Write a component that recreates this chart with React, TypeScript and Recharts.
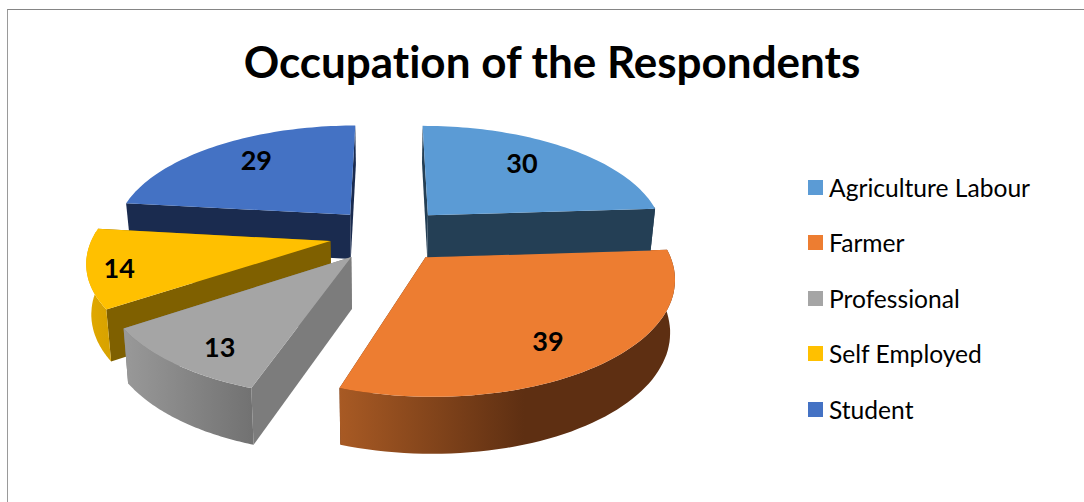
import { PieChart, Pie, Legend } from 'recharts'

const categories = ['Agriculture Labour', 'Farmer', 'Professional', 'Self Employed', 'Student']
const values = [30, 39, 13, 14, 29]
const topColors = ['#5B9BD5', '#ED7D31', '#A5A5A5', '#FFC000', '#4472C4']
const sideColors = ['#243F55', '#5E2F12', '#7C7C7C', '#7F6000', '#1A2B4F']
const rimFrom = ['#243F55', '#A85A24', '#999999', '#E2A900', '#1A2B4F']
const rimTo = ['#243F55', '#5E2F12', '#727272', '#D9A300', '#1A2B4F']
const rimSpan = [1, 0.55, 1, 1, 1]
const wallDepth = [43, 51, 51, 49, 45]
const labelDistance = [0.91, 0.97, 1.02, 1.12, 0.93]

// drawn back to front, so the slices go counter-clockwise from the student slice
const rows = categories
  .map((name, i) => ({ name, value: values[i], fill: topColors[i], idx: i }))
  .reverse()

const FONT = 'Lato, sans-serif'
const CX = 388.5
const CY = 234.6
const RX = 237
const RY = 109.4
const PERSPECTIVE = 0.16
const EXPLODE = 0.25

function project(wx: number, wy: number) {
  const s = 1 + PERSPECTIVE * wy
  return { x: CX + (RX * wx) / s, y: CY - (RY * wy) / s }
}

function lower(p: { x: number; y: number }, wy: number, depth: number) {
  return { x: p.x + (CX - p.x) * 0.017, y: p.y + depth - 5 * wy }
}

const rad = (d: number) => (d * Math.PI) / 180

function toPath(pts: { x: number; y: number }[]) {
  return pts.map((p, i) => `${i ? 'L' : 'M'}${p.x.toFixed(1)},${p.y.toFixed(1)}`).join(' ') + ' Z'
}

function Slice3D(props: any) {
  const { startAngle, endAngle, payload, fill } = props
  const idx = payload?.idx ?? props.idx
  const depth = wallDepth[idx]
  const mid = rad((startAngle + endAngle) / 2)
  const ox = Math.cos(mid) * EXPLODE
  const oy = Math.sin(mid) * EXPLODE

  const rim: { wx: number; wy: number; a: number }[] = []
  const steps = 60
  for (let i = 0; i <= steps; i++) {
    const a = rad(startAngle + ((endAngle - startAngle) * i) / steps)
    rim.push({ wx: ox + Math.cos(a), wy: oy + Math.sin(a), a })
  }
  const apexTop = project(ox, oy)
  const apexLow = lower(apexTop, oy, depth)
  const rimTop = rim.map((r) => project(r.wx, r.wy))
  const rimLow = rim.map((r, i) => lower(rimTop[i], r.wy, depth))

  const wallA = [apexTop, rimTop[0], rimLow[0], apexLow]
  const last = rim.length - 1
  const wallB = [apexTop, rimTop[last], rimLow[last], apexLow]

  // only the part of the rim that faces the viewer
  const front = rim.map((r, i) => (Math.sin(r.a) < 0.1 ? i : -1)).filter((i) => i >= 0)
  const frontTop = front.map((i) => rimTop[i])
  const frontLow = front.map((i) => rimLow[i]).reverse()
  const xs = frontTop.map((p) => p.x)
  const gradId = `rim-${idx}`

  return (
    <g>
      <path d={toPath(wallA)} fill={sideColors[idx]} />
      <path d={toPath(wallB)} fill={sideColors[idx]} />
      {front.length > 1 && (
        <>
          <defs>
            <linearGradient
              id={gradId}
              gradientUnits="userSpaceOnUse"
              x1={Math.min(...xs)}
              x2={Math.min(...xs) + (Math.max(...xs) - Math.min(...xs)) * rimSpan[idx]}
              y1={0}
              y2={0}
            >
              <stop offset="0%" stopColor={rimFrom[idx]} />
              <stop offset="100%" stopColor={rimTo[idx]} />
            </linearGradient>
          </defs>
          <path d={toPath([...frontTop, ...frontLow])} fill={`url(#${gradId})`} />
        </>
      )}
      <path d={toPath([apexTop, ...rimTop])} fill={fill} />
    </g>
  )
}

function sliceLabel(props: any) {
  const { midAngle, value } = props
  const idx = props.payload?.idx ?? props.idx
  const a = rad(midAngle)
  const dist = EXPLODE + labelDistance[idx] - EXPLODE
  const p = project(Math.cos(a) * dist, Math.sin(a) * dist)
  return (
    <text
      x={p.x}
      y={CY + (p.y - CY) * 1.1}
      textAnchor="middle"
      dominantBaseline="central"
      fontFamily={FONT}
      fontWeight={700}
      fontSize={27}
      fill="#000"
    >
      {value}
    </text>
  )
}

function LegendList({ payload }: any) {
  return (
    <div style={{ fontFamily: FONT, fontSize: 24.6, color: '#000', fontVariantLigatures: 'none' }}>
      {(payload ?? []).map((item: any) => (
        <div key={item.value} style={{ display: 'flex', alignItems: 'center', height: 55.5 }}>
          <span style={{ width: 15, height: 15, background: item.color, marginRight: 6 }} />
          <span>{item.value}</span>
        </div>
      ))}
    </div>
  )
}

export default function App() {
  return (
    <div style={{ position: 'absolute', left: 0, top: 0, width: 1084, height: 502, background: '#fff' }}>
      <div
        style={{
          position: 'absolute',
          left: 7,
          top: 9,
          right: 0,
          bottom: 0,
          borderLeft: '1px solid #9a9a9a',
          borderTop: '1px solid #858585',
        }}
      />
      <PieChart width={1084} height={502} style={{ position: 'absolute', left: 0, top: 0 }}>
        <text
          x={552}
          y={61}
          textAnchor="middle"
          dominantBaseline="central"
          fontFamily={FONT}
          fontWeight={700}
          fontSize={44}
          style={{ fontVariantLigatures: 'none' }}
          fill="#000"
        >
          Occupation of the Respondents
        </text>
        <Pie
          data={rows}
          dataKey="value"
          nameKey="name"
          cx={CX}
          cy={CY}
          outerRadius={RY}
          startAngle={90}
          endAngle={450}
          stroke="none"
          shape={Slice3D}
          label={sliceLabel}
          labelLine={false}
          isAnimationActive={false}
        />
        <Legend
          layout="vertical"
          align="right"
          verticalAlign="top"
          wrapperStyle={{ left: 808, top: 159.5, width: 270 }}
          content={LegendList}
        />
      </PieChart>
    </div>
  )
}
